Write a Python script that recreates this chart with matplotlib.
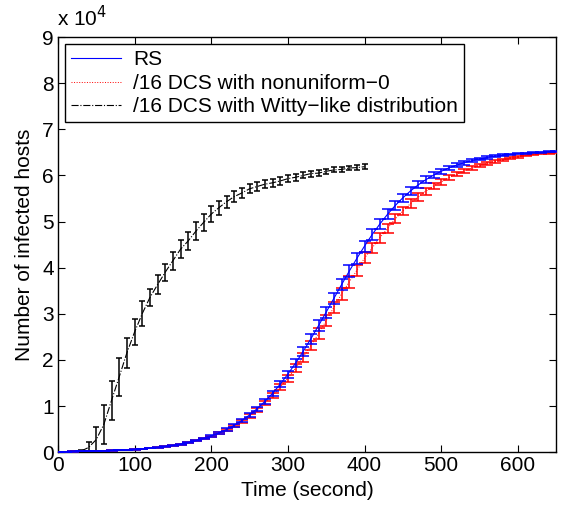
import matplotlib
matplotlib.use("Agg")
import matplotlib.pyplot as plt
from matplotlib.ticker import FuncFormatter, MultipleLocator

plt.rcParams['font.family'] = ['Liberation Sans', 'DejaVu Sans']

# time grid (seconds)
t_rs = list(range(0, 651, 10))
t_witty = list(range(0, 401, 10))

rs = [97, 116, 139, 167, 200, 240, 287, 345, 413, 495,
      593, 710, 850, 1016, 1215, 1453, 1737, 2075, 2474, 2945,
      3495, 4148, 4913, 5807, 6845, 8046, 9424, 10990, 12745, 14723,
      16903, 19287, 21848, 24577, 27429, 30366, 33333, 36308, 39222, 42015,
      44680, 47190, 49473, 51575, 53469, 55158, 56645, 57949, 59083, 60063,
      60902, 61624, 62233, 62757, 63194, 63568, 63883, 64147, 64368, 64551,
      64711, 64839, 64948, 65038, 65116, 65180]
rs_err = [10, 10, 10, 10, 10, 15, 15, 20, 20, 25,
          30, 35, 40, 50, 60, 70, 85, 100, 120, 140,
          170, 200, 240, 280, 330, 390, 450, 520, 600, 680,
          780, 870, 960, 1050, 1130, 1200, 1250, 1260, 1250, 1230,
          1190, 1150, 1100, 1040, 980, 910, 840, 770, 700, 630,
          560, 500, 440, 390, 340, 300, 260, 230, 200, 170,
          150, 130, 110, 100, 90, 80]

nonuni = [97, 116, 139, 167, 200, 240, 287, 345, 413, 495,
          593, 710, 850, 1010, 1210, 1440, 1720, 2050, 2440, 2900,
          3430, 4070, 4810, 5680, 6680, 7840, 9160, 10650, 12300, 14100,
          16000, 18200, 20600, 23100, 25700, 28500, 31400, 34300, 36900, 39400,
          42100, 44300, 46500, 48500, 50600, 52300, 53900, 55300, 56600, 57700,
          58600, 59500, 60300, 61000, 61600, 62100, 62600, 63000, 63400, 63700,
          64000, 64300, 64500, 64700, 64850, 65000]
nonuni_err = [10, 10, 10, 10, 10, 15, 15, 20, 20, 25,
              30, 35, 40, 50, 60, 70, 85, 100, 120, 140,
              170, 200, 240, 280, 330, 390, 450, 520, 600, 680,
              780, 870, 960, 1050, 1130, 1200, 1250, 1260, 1250, 1230,
              1190, 1150, 1100, 1050, 1000, 950, 890, 830, 770, 710,
              650, 590, 530, 480, 430, 380, 340, 300, 260, 230,
              200, 170, 150, 130, 110, 100]

witty = [10, 30, 80, 200, 1000, 2700, 6000, 11200, 16300, 21500,
         26000, 30000, 33500, 36300, 39000, 41500, 44000, 45800, 47900, 49800,
         51600, 53000, 54300, 55400, 56200, 57100, 57600, 58100, 58400, 58800,
         59300, 59600, 60000, 60400, 60500, 60900, 61200, 61300, 61600, 61700,
         61900]
witty_err = [5, 20, 60, 200, 1200, 2800, 4200, 4300, 4100, 3300,
             2800, 2700, 1800, 2100, 1900, 1900, 1900, 2000, 1900, 1800,
             1700, 1500, 1300, 1200, 1000, 1000, 950, 900, 850, 800,
             700, 700, 650, 650, 600, 600, 550, 550, 500, 500,
             500]

labels = ['RS', '/16 DCS with nonuniform\u22120', '/16 DCS with Witty\u2212like distribution']

FS = 15

fig = plt.figure(figsize=(5.67, 5.08), dpi=100)
ax = fig.add_axes([0.102, 0.110, 0.879, 0.817])

# Witty-like (black, dash-dot)
ax.errorbar(t_witty, witty, yerr=witty_err, fmt='none', ecolor='black',
            elinewidth=1.1, capsize=2.2, capthick=1.1, zorder=3)
l3, = ax.plot(t_witty, witty, color='black', linestyle='-.', linewidth=0.8, zorder=3)

# nonuniform-0 (red, dotted)
ax.errorbar(t_rs, nonuni, yerr=nonuni_err, fmt='none', ecolor='red',
            elinewidth=1.1, capsize=4.5, capthick=1.1, zorder=4)
l2, = ax.plot(t_rs, nonuni, color='red', linestyle=':', linewidth=0.7, zorder=4)

# RS (blue, solid)
ax.errorbar(t_rs, rs, yerr=rs_err, fmt='none', ecolor='blue',
            elinewidth=1.1, capsize=4.5, capthick=1.1, zorder=5)
l1, = ax.plot(t_rs, rs, color='blue', linestyle='-', linewidth=0.8, zorder=5)

ax.set_xlim(0, 650)
ax.set_ylim(0, 90000)
ax.xaxis.set_major_locator(MultipleLocator(100))
ax.yaxis.set_major_locator(MultipleLocator(10000))
ax.yaxis.set_major_formatter(FuncFormatter(lambda v, p: f"{int(round(v / 10000))}"))

ax.tick_params(direction='in', length=5, width=0.8, labelsize=FS,
               top=True, right=True, pad=3)
for s in ax.spines.values():
    s.set_linewidth(1.0)

ax.set_xlabel('Time (second)', fontsize=FS, labelpad=4)
ax.set_ylabel('Number of infected hosts', fontsize=FS, labelpad=6)

fig.text(0.100, 0.940, 'x 10$^{4}$', fontsize=FS, ha='left', va='bottom')

leg = ax.legend([l1, l2, l3], labels, loc='upper left', fontsize=FS,
                frameon=True, fancybox=False, framealpha=1, edgecolor='black',
                handlelength=2.4, handletextpad=0.6, labelspacing=0.22,
                borderpad=0.28, borderaxespad=0.35)
leg.get_frame().set_linewidth(1.0)

fig.savefig('out.png', dpi=100)
